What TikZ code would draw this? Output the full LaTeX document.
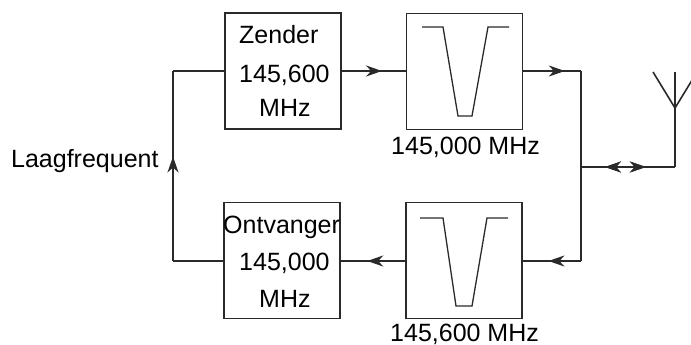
\documentclass[tikz,border=0pt]{standalone}
\usepackage{fontspec}
\setmainfont{Liberation Sans}
\usetikzlibrary{arrows.meta,decorations.markings}
\definecolor{ink}{HTML}{2A2A2A}
\tikzset{
  blk/.style={draw=ink,line width=1.6pt,minimum width=116pt,minimum height=116pt,inner sep=0pt},
  wire/.style={draw=ink,line width=1.6pt},
  txt/.style={anchor=base west,inner sep=0pt,font=\fontsize{25pt}{27pt}\selectfont,text=black},
  fwd/.style={postaction={decorate},decoration={markings,mark=at position #1 with {\arrow[ink]{Stealth[length=16pt,width=11pt,inset=5pt]}}}},
  bwd/.style={postaction={decorate},decoration={markings,mark=at position #1 with {\arrowreversed[ink]{Stealth[length=16pt,width=11pt,inset=5pt]}}}}
}
\begin{document}
\begin{tikzpicture}[x=1pt,y=-1pt]
\useasboundingbox (0,0) rectangle (691,345);
% blocks
\node[blk] (zender) at (283,71) {};
\node[blk] (filt1) at (464.5,71.5) {};
\node[blk] (ontv) at (282,260.5) {};
\node[blk] (filt2) at (464,260.5) {};
% texts
\node[txt] (z1) at (239,44) {Zender};
\node[txt] (z2) at (239,82) {145,600};
\node[txt] (z3) at (259,117) {MHz};
\node[txt] (o1) at (223,233) {Ontvanger};
\node[txt] (o2) at (239,270) {145,000};
\node[txt] (o3) at (259,307) {MHz};
\node[txt] (f1) at (391,154) {145,000 MHz};
\node[txt] (f2) at (390,341) {145,600 MHz};
\node[txt] (lf) at (11,167) {Laagfrequent};
% filter curves
\draw[wire,line width=1.3pt] (422,27) -- (443,27) -- (458,116) -- (472,116) -- (488,27) -- (509,27);
\draw[wire,line width=1.3pt] (420,218) -- (443,218) -- (456,306) -- (472,306) -- (487,218) -- (508,218);
% corner coordinates
\coordinate (cTL) at (173,71);
\coordinate (cBL) at (173,261);
\coordinate (cTR) at (581,71);
\coordinate (cBR) at (581,261);
\coordinate (cM) at (581,167);
\coordinate (cA) at (675,167);
\coordinate (aJ) at (675,108);
\coordinate (aT) at (675,72);
\coordinate (aL) at (653,72);
\coordinate (aR) at (697,72);
% connectors
\draw[wire,fwd=0.63] (zender.east) -- (filt1.west |- zender.east);
\draw[wire,fwd=0.72] (filt1.east |- cTR) -- (cTR);
\draw[wire] (cTR) -- (cBR);
\draw[wire,fwd=0.56] (cBR) -- (filt2.east |- cBR);
\draw[wire,fwd=0.59] (filt2.west |- cBR) -- (ontv.east |- cBR);
\draw[wire] (ontv.west |- cBL) -- (cBL);
\draw[wire,fwd=0.55] (cBL) -- (cTL);
\draw[wire] (cTL) -- (zender.west |- cTL);
\draw[wire,bwd=0.255,fwd=0.69] (cM) -- (cA);
\draw[wire] (cA) -- (aJ) -- (aT);
\draw[wire] (aL) -- (aJ) -- (aR);
\end{tikzpicture}
\end{document}
